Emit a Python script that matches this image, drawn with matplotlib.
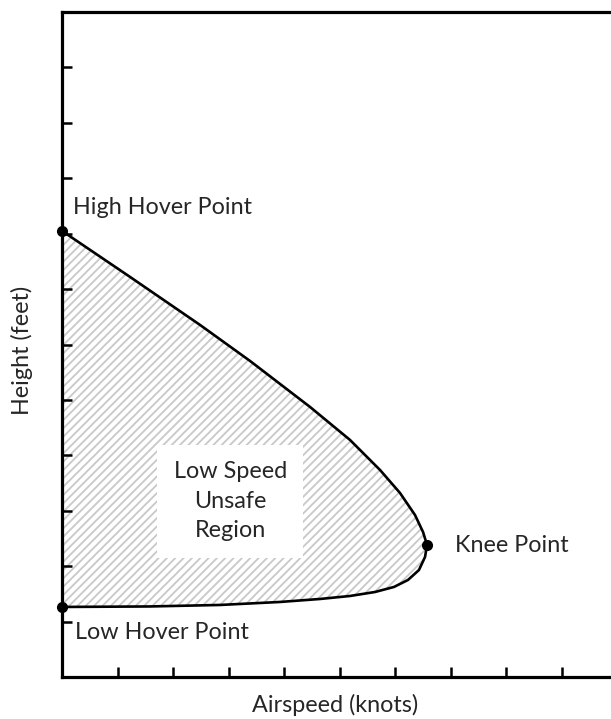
import matplotlib
matplotlib.use("Agg")
import matplotlib.pyplot as plt

# H-V curve (x: airspeed units, y: height units)
curve_x = [0.0, 1.225, 2.486, 3.387, 4.468, 5.189, 5.730, 6.090, 6.360, 6.505, 6.577,
           6.541, 6.432, 6.234, 5.982, 5.640, 5.189, 4.649, 3.928, 2.847, 1.586, 0.0]
curve_y = [8.05, 7.22, 6.354, 5.704, 4.874, 4.278, 3.736, 3.321, 2.924, 2.617, 2.383,
           2.166, 1.931, 1.751, 1.625, 1.534, 1.462, 1.408, 1.354, 1.300, 1.273, 1.264]

point_names = ["High Hover Point", "Knee Point", "Low Hover Point"]
point_x = [0.0, 6.577, 0.0]
point_y = [8.05, 2.383, 1.264]

x_ticks = list(range(0, 11))
y_ticks = list(range(0, 13))

plt.rcParams['font.family'] = ['Lato', 'DejaVu Sans']
plt.rcParams['hatch.linewidth'] = 1.3
plt.rcParams['hatch.color'] = '#c8c8c8'

fig = plt.figure(figsize=(6.11, 7.19), dpi=100)
ax = fig.add_axes([62/611, 42/719, 555/611, 665/719])

# shaded unsafe region
ax.fill(curve_x, curve_y, facecolor='white', edgecolor='#c8c8c8', hatch='////', linewidth=0)
ax.plot(curve_x, curve_y, color='black', linewidth=1.9, solid_joinstyle='round')
ax.plot(point_x, point_y, 'o', color='black', markersize=7, clip_on=False, zorder=5)

ax.set_xlim(0, 10)
ax.set_ylim(0, 12)
ax.set_xticks(x_ticks)
ax.set_yticks(y_ticks)
ax.set_xticklabels([])
ax.set_yticklabels([])
ax.tick_params(direction='in', length=7, width=1.8, color='black')
for s in ax.spines.values():
    s.set_linewidth(2.3)

txt = dict(fontsize=16.8, color='#262626')
ax.text(0.2, 8.48, point_names[0], ha='left', va='center', **txt)
ax.text(7.08, 2.38, point_names[1], ha='left', va='center', **txt)
ax.text(0.23, 0.81, point_names[2], ha='left', va='center', **txt)

ax.add_patch(plt.Rectangle((1.71, 2.15), 2.63, 2.04, facecolor='white', edgecolor='none', zorder=2))
ax.text(3.03, 3.17, "Low Speed\nUnsafe\nRegion", ha='center', va='center', linespacing=1.5,
        zorder=3, **txt)

fig.text(335/611, 1 - 705/719, "Airspeed (knots)", ha='center', va='center', **txt)
fig.text(22/611, 1 - 350/719, "Height (feet)", ha='center', va='center', rotation=90, **txt)

fig.savefig("out.png", dpi=100)
